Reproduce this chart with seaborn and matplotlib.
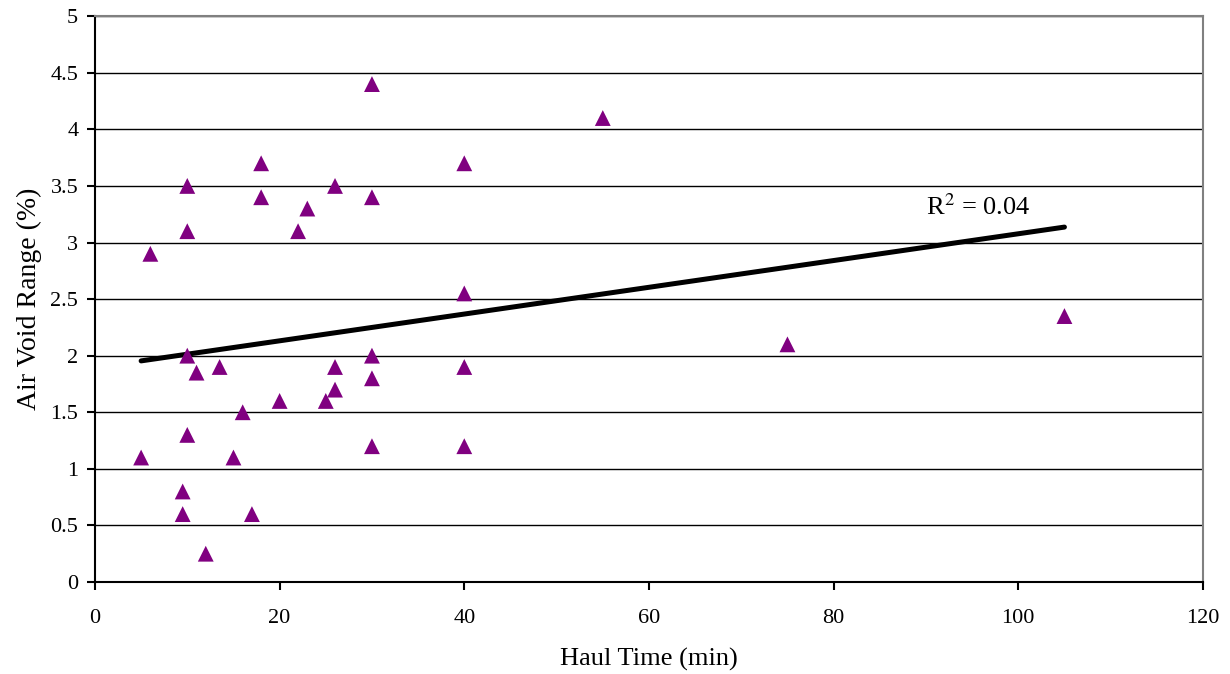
import seaborn as sns
import matplotlib.pyplot as plt
import pandas as pd
import numpy as np

# haul time (min) vs air void range (%)
haul_time = [6, 5, 10, 10, 10, 10, 9.5, 9.5, 11, 12, 13.5, 15, 16, 17, 18, 18,
             20, 22, 23, 25, 26, 26, 26, 30, 30, 30, 30, 30, 40, 40, 40, 40,
             55, 75, 105]
air_void = [2.9, 1.1, 3.5, 3.1, 2.0, 1.3, 0.8, 0.6, 1.85, 0.25, 1.9, 1.1, 1.5, 0.6, 3.7, 3.4,
            1.6, 3.1, 3.3, 1.6, 3.5, 1.9, 1.7, 4.4, 3.4, 2.0, 1.8, 1.2, 3.7, 2.55, 1.9, 1.2,
            4.1, 2.1, 2.35]
r2_label = r'R$^2$ = 0.04'

def main():
    data = pd.DataFrame({'haul': haul_time, 'void': air_void})

    sns.set_style('white')
    plt.rcParams['font.family'] = ['Liberation Serif', 'DejaVu Serif']
    plt.rcParams['mathtext.fontset'] = 'stix'
    plt.rcParams['text.color'] = 'black'
    plt.rcParams['axes.labelcolor'] = 'black'

    fig = plt.figure(figsize=(12.3, 6.74), dpi=100)
    ax = fig.add_axes([0.0772, 0.1365, 0.9008, 0.8395])

    # trend line (least squares) and the data points
    sns.regplot(data=data, x='haul', y='void', scatter=False, ci=None, truncate=True,
                line_kws={'color': 'black', 'lw': 3.6, 'solid_capstyle': 'round'}, ax=ax)
    sns.scatterplot(data=data, x='haul', y='void', marker='^', s=130, color='#800080',
                    edgecolor='none', ax=ax, zorder=3)

    ax.set_xlim(0, 120)
    ax.set_ylim(0, 5)
    ax.set_xticks(np.arange(0, 121, 20))
    ax.set_yticks(np.arange(0, 5.01, 0.5))
    ax.set_yticklabels(['0', '0.5', '1', '1.5', '2', '2.5', '3', '3.5', '4', '4.5', '5'])
    ax.yaxis.grid(True, color='black', lw=1)
    ax.set_axisbelow(True)
    for side in ['top', 'right']:
        ax.spines[side].set_color('#808080')
        ax.spines[side].set_linewidth(1.5)
    for side in ['left', 'bottom']:
        ax.spines[side].set_color('black')
        ax.spines[side].set_linewidth(1.5)
    ax.tick_params(axis='both', direction='out', length=5.5, width=1.5, colors='black',
                   labelsize=16, left=True, bottom=True)
    ax.tick_params(axis='x', pad=14)
    ax.tick_params(axis='y', pad=6.5)
    ax.set_xlabel('Haul Time (min)', fontsize=19, labelpad=14)
    ax.set_ylabel('Air Void Range (%)', fontsize=20, labelpad=6)

    ax.text(90, 3.31, r2_label, fontsize=19, va='center', ha='left')

    fig.savefig('out.png', dpi=100)

if __name__ == '__main__':
    main()
